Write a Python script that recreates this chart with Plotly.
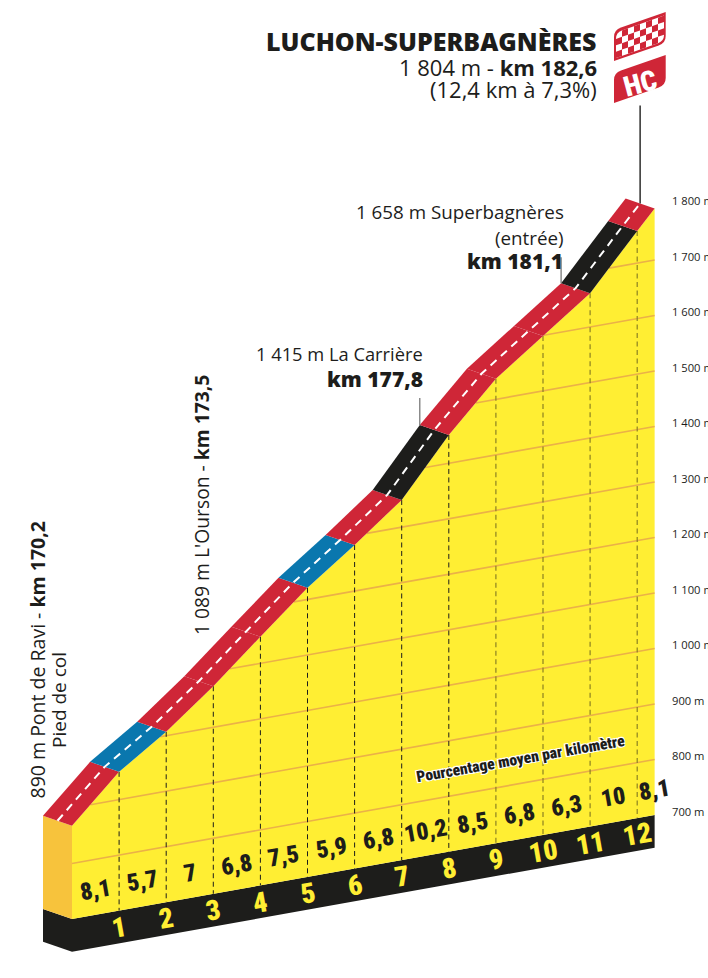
import numpy as np
import plotly.graph_objects as go

# ~~~ DATA ~~~
# Front edge of the road (km from the foot, metres)
km = [0, 1, 2, 3, 4, 5, 6, 7, 8, 9, 10, 11, 12, 12.37]
alt = [868, 950, 1007, 1074, 1148, 1221, 1283, 1349, 1451, 1537, 1599, 1661, 1758, 1793]
# Average gradient per kilometre
pct = [8.1, 5.7, 7, 6.8, 7.5, 5.9, 6.8, 10.2, 8.5, 6.8, 6.3, 10, 8.1]
pct_labels = ["8,1", "5,7", "7", "6,8", "7,5", "5,9", "6,8", "10,2", "8,5", "6,8", "6,3", "10", "8,1"]
pct_km = [0.5, 1.5, 2.5, 3.5, 4.5, 5.5, 6.5, 7.5, 8.5, 9.5, 10.5, 11.5, 12.36]
km_marks = [1, 2, 3, 4, 5, 6, 7, 8, 9, 10, 11, 12]
altitude_ticks = [700, 800, 900, 1000, 1100, 1200, 1300, 1400, 1500, 1600, 1700, 1800]
altitude_labels = ["700 m", "800 m", "900 m", "1 000 m", "1 100 m", "1 200 m",
                   "1 300 m", "1 400 m", "1 500 m", "1 600 m", "1 700 m", "1 800 m"]

# ~~~ STYLE ~~~
YELLOW = "#FFEE33"
SIDE = "#F7C33C"
RED = "#CF2637"
BLUE = "#0A77AE"
BLACK = "#1D1D1B"
GRID = "#EBB148"
OLIVE = "#8C8122"
TEXT = "#1D1D1B"
SANS = "Open Sans"
NARROW = "Roboto Condensed"

WIDTH, HEIGHT = 708, 978
MARGIN_R = 40
PX_PER_KM = 47.1
PX_PER_M = 0.555
TILT = 15.15        # metres per km, the whole profile leans in perspective
ROAD_DX = 29 / PX_PER_KM
ROAD_DY = 10 / PX_PER_M
BASE_ALT = 700
BASE_DEPTH = 59
END = km[-1]


def tilted(k, a):
    # Altitude on the leaning plane
    return np.asarray(a, dtype=float) - TILT * (END - np.asarray(k, dtype=float))


def pxx(x):
    return x / (WIDTH - MARGIN_R)


def pxy(y):
    return 1 - y / HEIGHT


def road_colour(p):
    if p < 6:
        return BLUE
    if p < 10:
        return RED
    return BLACK


def polygon(xs, ys, colour):
    return go.Scatter(x=xs, y=ys, mode="lines", fill="toself", fillcolor=colour,
                      line=dict(width=0, color=colour), hoverinfo="skip", showlegend=False)


def line(xs, ys, colour, width=1, dash="solid"):
    return go.Scatter(x=xs, y=ys, mode="lines", line=dict(color=colour, width=width, dash=dash),
                      hoverinfo="skip", showlegend=False)


km_arr = np.array(km, dtype=float)
alt_arr = np.array(alt, dtype=float)
top = tilted(km_arr, alt_arr)
km_base = np.array([0, END])
base_top = tilted(km_base, BASE_ALT)

fig = go.Figure()

# Black base, front and left side
fig.add_trace(polygon([0, END, END, 0], [base_top[0], base_top[1], base_top[1] - BASE_DEPTH, base_top[0] - BASE_DEPTH], BLACK))
fig.add_trace(polygon([-ROAD_DX, 0, 0, -ROAD_DX],
                      [base_top[0] + ROAD_DY, base_top[0], base_top[0] - BASE_DEPTH, base_top[0] - BASE_DEPTH + ROAD_DY], BLACK))
# Orange left side
fig.add_trace(polygon([-ROAD_DX, 0, 0, -ROAD_DX],
                      [top[0] + ROAD_DY, top[0], base_top[0], base_top[0] + ROAD_DY], SIDE))
# Yellow face
fig.add_trace(polygon(list(km_arr) + [END, 0], list(top) + [base_top[1], base_top[0]], YELLOW))

# Altitude lines, from where each one leaves the road
for tick in altitude_ticks[1:-1]:
    start = float(np.interp(tick, alt_arr, km_arr))
    fig.add_trace(line([start, END], tilted([start, END], tick), GRID, 1.6))

# Kilometre lines
for k in km_marks:
    fig.add_trace(line([k, k], [top[k], tilted(k, BASE_ALT)], BLACK if k < 9 else OLIVE,
                       1 if k < 9 else 1.2, "5px,3.5px"))

# Road, one piece per kilometre
for i, p in enumerate(pct):
    x0, x1 = km_arr[i], km_arr[i + 1]
    y0, y1 = top[i], top[i + 1]
    fig.add_trace(polygon([x0, x1, x1 - ROAD_DX, x0 - ROAD_DX],
                          [y0, y1, y1 + ROAD_DY, y0 + ROAD_DY], road_colour(p)))
fig.add_trace(line(km_arr - ROAD_DX / 2, top + ROAD_DY / 2, "white", 2, "8px,6px"))

# Leaders to the texts and the flag pole
for k, length in [(8, 27), (11, 26)]:
    fig.add_trace(line([k - ROAD_DX, k - ROAD_DX],
                       [top[k] + ROAD_DY, top[k] + ROAD_DY + length / PX_PER_M], "#6F6F6E", 1.2))
fig.add_trace(line([END - ROAD_DX / 2, END - ROAD_DX / 2],
                   [top[-1] + ROAD_DY / 2, top[-1] + ROAD_DY / 2 + 98 / PX_PER_M], "#3C3C3B", 1.6))

annotations = []


def label(text, x, y, size, anchor="center", angle=0, colour=TEXT, family=SANS, **font):
    annotations.append(dict(text=text, x=pxx(x), y=pxy(y), xref="paper", yref="paper",
                            xanchor=anchor, yanchor="middle", showarrow=False, textangle=angle,
                            borderpad=0, font=dict(family=family, size=size, color=colour, **font)))


# Numbers on the profile, placed through the axes
for k, text in zip(pct_km, pct_labels):
    annotations.append(dict(text=text, x=k, y=float(tilted(k, 745)), xref="x", yref="y", showarrow=False,
                            textangle=-10, font=dict(family=NARROW, size=24, color=BLACK, weight=900)))
for k in km_marks:
    annotations.append(dict(text=str(k), x=k, y=float(tilted(k, 670)), xref="x", yref="y", showarrow=False,
                            textangle=-10, font=dict(family=NARROW, size=28, color=YELLOW, weight=900)))

# Titles
label("LUCHON-SUPERBAGNÈRES", 598, 41, 25, "right", weight=800)
label("1 804 m - <b>km 182,6</b>", 598, 67, 22, "right")
label("(12,4 km à 7,3%)", 598, 89, 22, "right")

label("1 658 m Superbagnères", 565, 212, 18.8, "right")
label("(entrée)", 565, 238, 18.8, "right")
label("km 181,1", 564, 261, 21, "right", weight=800)
label("1 415 m La Carrière", 424, 353, 18.3, "right")
label("km 177,8", 424, 379, 21, "right", weight=800)

label("890 m Pont de Ravi - <b>km 170,2</b>", 36.5, 660, 19.5, angle=-90)
label("Pied de col", 59, 700, 19, angle=-90)
label("1 089 m L'Ourson - <b>km 173,5</b>", 201, 505, 19.3, angle=-90)

label("Pourcentage moyen par kilomètre", 521, 759, 15.5, angle=-10, colour=BLACK, family=NARROW, weight=900,
      shadow="1px 1px 0 #fff, -1px -1px 0 #fff, 1px -1px 0 #fff, -1px 1px 0 #fff")
label("HC", 640, 84, 28, angle=-15, colour="white", family=NARROW, weight=900)

# Flags, drawn in page pixels
shapes = []


def flag_path(x0, x1, ytl, ytr, h, r=7):
    # Leaning flag with the top left and bottom right corners rounded
    s = (ytr - ytl) / (x1 - x0)
    pts = [
        f"M {pxx(x0)} {pxy(ytl + r)}",
        f"Q {pxx(x0)} {pxy(ytl)} {pxx(x0 + r)} {pxy(ytl + s * r)}",
        f"L {pxx(x1)} {pxy(ytr)}",
        f"L {pxx(x1)} {pxy(ytr + h - r)}",
        f"Q {pxx(x1)} {pxy(ytr + h)} {pxx(x1 - r)} {pxy(ytr + h - s * r)}",
        f"L {pxx(x0)} {pxy(ytl + h)}",
        "Z",
    ]
    return " ".join(pts)


shapes.append(dict(type="path", path=flag_path(614, 665.7, 30, 12, 31), xref="paper", yref="paper",
                   fillcolor=RED, line=dict(width=0)))
shapes.append(dict(type="path", path=flag_path(616, 664, 32.5, 15.5, 25.5, 6), xref="paper", yref="paper",
                   fillcolor="white", line=dict(width=0)))
shapes.append(dict(type="path", path=flag_path(614, 665.7, 73, 55, 30), xref="paper", yref="paper",
                   fillcolor=RED, line=dict(width=0)))
n_cols, n_rows = 8, 4
cw = 48 / n_cols
ch = 25.5 / n_rows
lean = -17 / 48
for col in range(n_cols):
    for row in range(n_rows):
        if (col + row) % 2 == 0:
            continue
        xa, xb = 616 + col * cw, 616 + (col + 1) * cw
        ya = 32.5 + lean * col * cw + row * ch
        yb = 32.5 + lean * (col + 1) * cw + row * ch
        path = (f"M {pxx(xa)} {pxy(ya)} L {pxx(xb)} {pxy(yb)} "
                f"L {pxx(xb)} {pxy(yb + ch)} L {pxx(xa)} {pxy(ya + ch)} Z")
        shapes.append(dict(type="path", path=path, xref="paper", yref="paper",
                           fillcolor=RED, line=dict(width=0)))

plot_w = WIDTH - MARGIN_R
fig.update_layout(
    width=WIDTH,
    height=HEIGHT,
    margin=dict(l=0, r=MARGIN_R, t=0, b=0, autoexpand=False),
    paper_bgcolor="white",
    plot_bgcolor="white",
    showlegend=False,
    annotations=annotations,
    shapes=shapes,
    xaxis=dict(visible=False, automargin=False, range=[-72 / PX_PER_KM, (plot_w - 72) / PX_PER_KM]),
    yaxis=dict(
        side="right",
        automargin=False,
        range=[BASE_ALT - (HEIGHT - 815) / PX_PER_M, BASE_ALT + 815 / PX_PER_M],
        tickmode="array",
        tickvals=altitude_ticks,
        ticktext=altitude_labels,
        ticks="",
        showgrid=False,
        zeroline=False,
        showline=False,
        ticklabelstandoff=3,
        ticklabelshift=-3,
        tickfont=dict(family=SANS, size=11.2, color=TEXT),
    ),
)

fig.write_html("out.html", config=dict(displayModeBar=False),
               post_script="document.body.style.margin='0';document.body.style.overflow='hidden';")
